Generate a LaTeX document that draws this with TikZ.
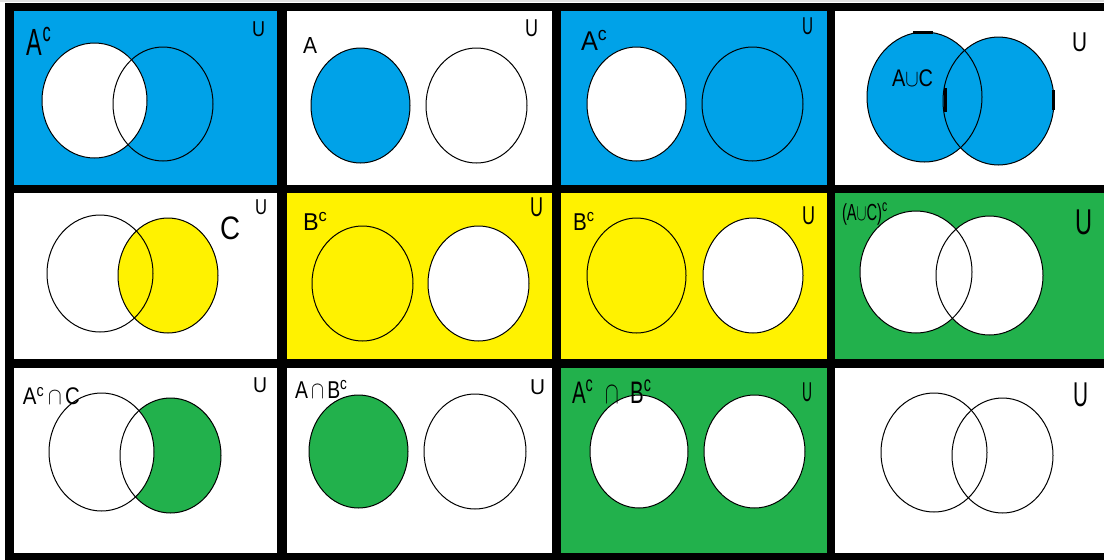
\documentclass[tikz,border=0pt]{standalone}
\usepackage{fontspec}
\setmainfont{Liberation Sans}
\definecolor{pblue}{RGB}{0,162,232}
\definecolor{pyellow}{RGB}{255,242,0}
\definecolor{pgreen}{RGB}{34,177,76}
\newcommand\lbl[6]{\node[lab] (#1) at (#2,#3) {\resizebox*{#4pt}{#5pt}{#6}};}
\begin{document}
\begin{tikzpicture}[x=1pt,y=-1pt,
  ring/.style={draw=black,line width=1pt},
  lab/.style={inner sep=0pt,outer sep=0pt,text=black}]
\useasboundingbox (0,0) rectangle (1104,560);
\fill[white] (0,0) rectangle (1104,560);
\fill[black!12] (0,0) rectangle (1104,2);
\fill[black] (5,3) rectangle (1104,560);
% ---------- row 1 ----------
\fill[pblue] (14,11) rectangle (277,185);
\fill[white] (287,11) rectangle (552,185);
\fill[pblue] (561,11) rectangle (827,185);
\fill[white] (835,11) rectangle (1104,185);
% ---------- row 2 ----------
\fill[white] (14,193) rectangle (277,359);
\fill[pyellow] (287,193) rectangle (552,359);
\fill[pyellow] (561,193) rectangle (827,359);
\fill[pgreen] (835,193) rectangle (1104,359);
% ---------- row 3 ----------
\fill[white] (14,368) rectangle (277,553);
\fill[white] (287,368) rectangle (552,553);
\fill[pgreen] (561,368) rectangle (827,553);
\fill[white] (835,368) rectangle (1104,553);

% panel 1: A^c
\fill[white] (94.5,100.5) ellipse [x radius=52.5pt, y radius=57.5pt];
\draw[ring] (94.5,100.5) ellipse [x radius=52.5pt, y radius=57.5pt];
\draw[ring] (163,104) ellipse [x radius=50pt, y radius=57pt];
% panel 2: A
\fill[pblue] (360.5,105.5) ellipse [x radius=49.5pt, y radius=57.5pt];
\draw[ring] (360.5,105.5) ellipse [x radius=49.5pt, y radius=57.5pt];
\draw[ring] (476.5,105.5) ellipse [x radius=50.5pt, y radius=57.5pt];
% panel 3: A^c
\fill[white] (636.5,104) ellipse [x radius=49.5pt, y radius=57pt];
\draw[ring] (636.5,104) ellipse [x radius=49.5pt, y radius=57pt];
\draw[ring] (752.5,104) ellipse [x radius=50.5pt, y radius=57pt];
% panel 4: A u C
\fill[pblue] (924.5,97) ellipse [x radius=57.5pt, y radius=65pt];
\fill[pblue] (998.5,101) ellipse [x radius=55.5pt, y radius=64pt];
\draw[ring] (924.5,97) ellipse [x radius=57.5pt, y radius=65pt];
\draw[ring] (998.5,101) ellipse [x radius=55.5pt, y radius=64pt];
\draw[line width=3pt] (913,32.5) -- (933,32.5);
\draw[line width=3pt] (945,88) -- (945,112);
\draw[line width=3pt] (1053.5,90) -- (1053.5,110);
% panel 5: C
\fill[pyellow] (168,275.5) ellipse [x radius=50pt, y radius=57.5pt];
\draw[ring] (100,273.5) ellipse [x radius=53pt, y radius=58.5pt];
\draw[ring] (168,275.5) ellipse [x radius=50pt, y radius=57.5pt];
% panel 6: B^c
\fill[white] (478.5,283.5) ellipse [x radius=50.5pt, y radius=57.5pt];
\draw[ring] (362.5,283.5) ellipse [x radius=50.5pt, y radius=57.5pt];
\draw[ring] (478.5,283.5) ellipse [x radius=50.5pt, y radius=57.5pt];
% panel 7: B^c
\fill[white] (753,275.5) ellipse [x radius=50pt, y radius=57.5pt];
\draw[ring] (636.5,275.5) ellipse [x radius=49.5pt, y radius=57.5pt];
\draw[ring] (753,275.5) ellipse [x radius=50pt, y radius=57.5pt];
% panel 8: (A u C)^c
\fill[white] (916,272) ellipse [x radius=56pt, y radius=61pt];
\fill[white] (989.5,275.5) ellipse [x radius=53.5pt, y radius=59.5pt];
\draw[ring] (916,272) ellipse [x radius=56pt, y radius=61pt];
\draw[ring] (989.5,275.5) ellipse [x radius=53.5pt, y radius=59.5pt];
% panel 9: A^c n C
\fill[pgreen] (170.5,455.5) ellipse [x radius=50.5pt, y radius=57.5pt];
\fill[white] (101.5,452) ellipse [x radius=52.5pt, y radius=59pt];
\draw[ring] (101.5,452) ellipse [x radius=52.5pt, y radius=59pt];
\draw[ring] (170.5,455.5) ellipse [x radius=50.5pt, y radius=57.5pt];
% panel 10: A n B^c
\fill[pgreen] (358.5,451.5) ellipse [x radius=49.5pt, y radius=56.5pt];
\draw[ring] (358.5,451.5) ellipse [x radius=49.5pt, y radius=56.5pt];
\draw[ring] (475,451.5) ellipse [x radius=51pt, y radius=57.5pt];
% panel 11: A^c n B^c
\fill[white] (639,451.5) ellipse [x radius=49pt, y radius=56.5pt];
\fill[white] (754.5,451.5) ellipse [x radius=50.5pt, y radius=56.5pt];
\draw[ring] (639,451.5) ellipse [x radius=49pt, y radius=56.5pt];
\draw[ring] (754.5,451.5) ellipse [x radius=50.5pt, y radius=56.5pt];
% panel 12
\draw[ring] (934,452.5) ellipse [x radius=53pt, y radius=59.5pt];
\draw[ring] (1002.5,455.5) ellipse [x radius=50.5pt, y radius=57.5pt];

% labels
\lbl{l1}{39.5}{41}{25}{28}{A\textsuperscript{c}}
\lbl{u1}{258.5}{29.5}{13}{15}{U}
\lbl{l2}{310}{45}{14}{16}{A}
\lbl{u2}{531.5}{28.5}{13}{17}{U}
\lbl{l3}{594.5}{40}{27}{20}{A\textsuperscript{c}}
\lbl{u3}{807.5}{26.5}{11}{17}{U}
\lbl{l4}{912.5}{78.5}{41}{17}{A$\cup$C}
\lbl{u4}{1079.5}{42.5}{15}{19}{U}
\lbl{l5}{230}{228.5}{20}{23}{C}
\lbl{u5}{261}{207.5}{12}{15}{U}
\lbl{l6}{315.5}{221}{25}{18}{B\textsuperscript{c}}
\lbl{u6}{536.5}{207.5}{13}{19}{U}
\lbl{l7}{584}{221}{22}{18}{B\textsuperscript{c}}
\lbl{u7}{808.5}{216}{13}{18}{U}
\lbl{l8}{865}{214}{46}{22}{(A$\cup$C)\textsuperscript{c}}
\lbl{u8}{1083.5}{222.5}{17}{25}{U}
\lbl{l9}{51.5}{396}{57}{18}{A\textsuperscript{c}\,$\cap$\,C}
\lbl{u9}{260}{385.5}{14}{15}{U}
\lbl{l10}{321.5}{389}{53}{18}{A\,$\cap$\,B\textsuperscript{c}}
\lbl{u10}{537.5}{387.5}{15}{15}{U}
\lbl{l11}{612}{391.5}{80}{23}{A\textsuperscript{c}\ \ $\cap$\ \ B\textsuperscript{c}}
\lbl{u11}{807}{392.5}{10}{19}{U}
\lbl{u12}{1080.5}{395}{15}{24}{U}
\end{tikzpicture}
\end{document}
